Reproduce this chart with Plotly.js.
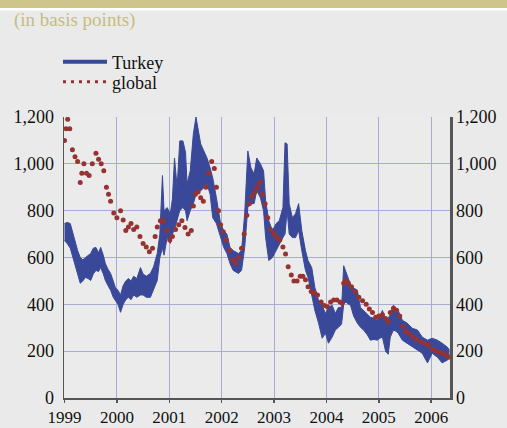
<!DOCTYPE html>
<html>
<head>
<meta charset="utf-8">
<script src="https://cdn.plot.ly/plotly-3.0.1.min.js"></script>
<style>
html,body{margin:0;padding:0;background:#EAEAEA;}
#chart{width:507px;height:428px;}
</style>
</head>
<body>
<div id="chart"></div>
<script>
// ---- data (decimal years, basis points) ----
const turkeyT = [1999.00,1999.05,1999.11,1999.16,1999.20,1999.25,1999.30,1999.35,1999.40,1999.45,1999.50,1999.55,1999.60,1999.65,1999.69,1999.74,1999.78,1999.83,1999.88,1999.93,1999.97,
2000.02,2000.07,2000.12,2000.17,2000.22,2000.27,2000.32,2000.38,2000.45,2000.50,2000.56,2000.64,2000.70,2000.77,2000.82,2000.87,2000.90,2000.96,
2001.02,2001.06,2001.10,2001.15,2001.20,2001.26,2001.31,2001.34,2001.40,2001.46,2001.51,2001.55,2001.60,2001.66,2001.72,2001.78,2001.83,2001.90,2001.98,
2002.04,2002.10,2002.16,2002.22,2002.32,2002.38,2002.44,2002.50,2002.56,2002.62,2002.67,2002.74,2002.80,2002.84,2002.90,2002.97,
2003.04,2003.10,2003.17,2003.21,2003.25,2003.29,2003.35,2003.41,2003.47,2003.53,2003.60,2003.65,2003.72,2003.78,2003.85,2003.92,2003.98,
2004.04,2004.11,2004.17,2004.23,2004.29,2004.33,2004.37,2004.40,2004.46,2004.52,2004.59,2004.65,2004.71,2004.78,2004.84,2004.91,2004.97,
2005.02,2005.07,2005.13,2005.18,2005.22,2005.28,2005.33,2005.37,2005.45,2005.54,2005.64,2005.74,2005.83,2005.93,
2006.02,2006.12,2006.21,2006.31,2006.35];
const turkeyHigh = [745,750,745,700,672,630,600,590,600,610,617,640,643,620,643,610,574,550,532,500,472,
460,440,480,500,510,500,520,510,557,530,520,532,560,617,700,950,800,813,
787,850,1025,900,1098,1098,1050,915,970,1128,1200,1150,1085,1055,1025,983,940,855,745,
715,700,643,630,617,630,787,1055,983,957,1025,1000,970,843,757,715,
745,757,813,1090,1085,830,770,787,830,715,630,587,557,472,417,396,361,
387,396,361,387,387,565,540,515,485,470,460,387,374,360,345,340,332,
350,374,332,340,357,396,385,374,332,320,298,290,260,247,
255,247,234,217,205];
const turkeyLow = [672,660,640,600,574,530,490,500,515,510,502,530,545,540,557,530,502,480,460,430,417,
400,366,400,420,430,420,440,430,440,440,430,430,460,502,600,640,610,685,
660,700,720,760,800,813,800,757,800,830,870,880,885,898,915,870,770,745,685,
643,617,574,545,532,545,643,813,830,830,885,855,800,685,587,600,
630,660,685,700,800,700,685,685,715,630,545,515,430,374,320,255,277,
234,260,290,302,315,400,410,404,396,350,320,302,290,270,247,250,247,
255,260,200,187,260,290,285,277,247,234,217,204,191,150,
191,174,150,162,170];

const globalT = [1999.00,1999.03,1999.06,1999.10,1999.15,1999.20,1999.25,1999.30,1999.33,1999.37,1999.42,1999.47,1999.53,1999.60,1999.65,1999.70,1999.75,1999.80,1999.84,1999.88,1999.94,
2000.00,2000.07,2000.12,2000.17,2000.22,2000.27,2000.32,2000.38,2000.44,2000.50,2000.56,2000.62,2000.68,2000.73,2000.77,2000.83,2000.89,2000.95,
2001.01,2001.06,2001.12,2001.18,2001.24,2001.30,2001.36,2001.42,2001.46,2001.50,2001.55,2001.60,2001.65,2001.70,2001.75,2001.81,2001.86,2001.90,2001.94,2001.98,
2002.03,2002.09,2002.15,2002.21,2002.27,2002.33,2002.38,2002.43,2002.48,2002.53,2002.58,2002.63,2002.68,2002.73,2002.78,2002.83,2002.88,2002.93,
2003.00,2003.06,2003.11,2003.17,2003.22,2003.27,2003.33,2003.38,2003.44,2003.50,2003.55,2003.60,2003.65,2003.71,2003.77,2003.83,2003.90,2003.96,
2004.02,2004.08,2004.14,2004.20,2004.26,2004.30,2004.33,2004.37,2004.42,2004.48,2004.55,2004.62,2004.69,2004.76,2004.82,2004.88,2004.94,
2005.00,2005.07,2005.13,2005.18,2005.22,2005.28,2005.34,2005.40,2005.46,2005.52,2005.58,2005.65,2005.72,2005.80,2005.88,2005.95,
2006.02,2006.09,2006.16,2006.23,2006.30,2006.34];
const globalV = [1100,1150,1190,1150,1060,1030,1010,920,960,1000,960,950,1000,1045,1020,1000,970,900,870,840,790,
770,800,760,715,730,745,720,730,690,660,645,625,640,690,730,757,757,715,
675,690,720,740,757,728,700,715,820,870,880,855,840,900,960,1010,980,900,800,740,
710,675,630,590,575,600,640,700,780,830,860,880,900,920,870,830,770,720,
700,685,675,645,615,560,525,500,500,520,520,505,475,455,450,440,410,395,
390,410,418,418,410,405,490,500,490,475,455,430,415,400,380,365,345,
350,355,340,325,365,383,375,350,305,285,275,262,250,240,232,226,
208,200,195,190,180,175];

const yTicks = [0,200,400,600,800,1000,1200];
const xTicks = [1999,2000,2001,2002,2003,2004,2005,2006];
const xTickText = ['1999','2000','2001','2002','2003','2004','2005','2006'];
const seriesNames = ['Turkey','global'];
const subtitle = '(in basis points)';

// ---- styling ----
const BLUE = '#3A4899';
const RED = '#963330';
const GRID = '#AAAAD6';
const AXIS = '#555555';
const FONT = 'Liberation Serif';

// plot area in pixels: left 64, right 450, top 117, bottom 398
const L=64, R=450, T=117, B=398;
const px2x = p => (p - L)/(R - L);
const py2y = p => (B - p)/(B - T);

const traces = [
  {x: turkeyT, y: turkeyLow, mode:'lines', line:{color:BLUE, width:1}, showlegend:false, hoverinfo:'skip'},
  {x: turkeyT, y: turkeyHigh, mode:'lines', line:{color:BLUE, width:1}, fill:'tonexty', fillcolor:BLUE, showlegend:false, hoverinfo:'skip'},
  {x: globalT, y: globalV, mode:'markers', marker:{color:RED, size:5}, showlegend:false},
  {x:[null], y:[null], mode:'lines', name: seriesNames[0], line:{color:BLUE, width:4}, legend:'legend'},
  {x:[null], y:[null], mode:'lines', name: seriesNames[1], line:{color:RED, width:3, dash:'3px,5px'}, legend:'legend2'},
  {x:[null], y:[null], yaxis:'y2', showlegend:false, mode:'lines', hoverinfo:'skip'}
];

const legFont = {family:FONT, size:18, color:'#111'};
const layout = {
  width:507, height:428,
  margin:{l:L, r:507-R, t:T, b:428-B, pad:0},
  paper_bgcolor:'#EAEAEA',
  plot_bgcolor:'#EBEBEB',
  font:{family:FONT, size:18, color:'#111111'},
  showlegend:true,
  legend:{x:px2x(58), y:py2y(62), xanchor:'left', yanchor:'middle', bgcolor:'rgba(0,0,0,0)', font:legFont, itemwidth:44},
  legend2:{x:px2x(58), y:py2y(82), xanchor:'left', yanchor:'middle', bgcolor:'rgba(0,0,0,0)', font:legFont, itemwidth:44},
  xaxis:{
    range:[1998.99, 2006.36], tickmode:'array', tickvals:xTicks, ticktext:xTickText,
    showgrid:true, gridcolor:GRID, gridwidth:1, zeroline:false,
    showline:true, linecolor:AXIS, linewidth:2, ticks:'outside', ticklen:3, tickcolor:AXIS, tickwidth:1.5,
    tickfont:{family:FONT, size:17, color:'#111'}, fixedrange:true
  },
  yaxis:{
    range:[0,1200], tickmode:'array', tickvals:yTicks, tickformat:',',
    showgrid:true, gridcolor:GRID, gridwidth:1, zeroline:false,
    showline:true, linecolor:AXIS, linewidth:1.5, ticks:'outside', ticklen:5, tickcolor:'rgba(0,0,0,0)',
    tickfont:{family:FONT, size:18, color:'#111'}, fixedrange:true
  },
  yaxis2:{
    overlaying:'y', side:'right', range:[0,1200], tickmode:'array', tickvals:yTicks, tickformat:',',
    showgrid:false, zeroline:false, showline:true, linecolor:AXIS, linewidth:2.5,
    ticks:'', tickfont:{family:FONT, size:18, color:'#111'}, fixedrange:true
  },
  shapes:[
    {type:'rect', xref:'paper', yref:'paper', x0:px2x(-2), x1:px2x(510), y0:py2y(8), y1:py2y(-2), fillcolor:'#CEC58A', line:{width:0}, layer:'below'},
    {type:'rect', xref:'paper', yref:'paper', x0:px2x(-2), x1:px2x(510), y0:py2y(10.5), y1:py2y(8), fillcolor:'#FFFFFF', line:{width:0}, layer:'below'}
  ],
  annotations:[
    {text:subtitle, xref:'paper', yref:'paper', x:px2x(12), y:py2y(20), xanchor:'left', yanchor:'middle', showarrow:false, font:{family:FONT, size:19, color:'#C6BC80'}}
  ]
};

Plotly.newPlot('chart', traces, layout, {displayModeBar:false, staticPlot:true});
</script>
</body>
</html>
